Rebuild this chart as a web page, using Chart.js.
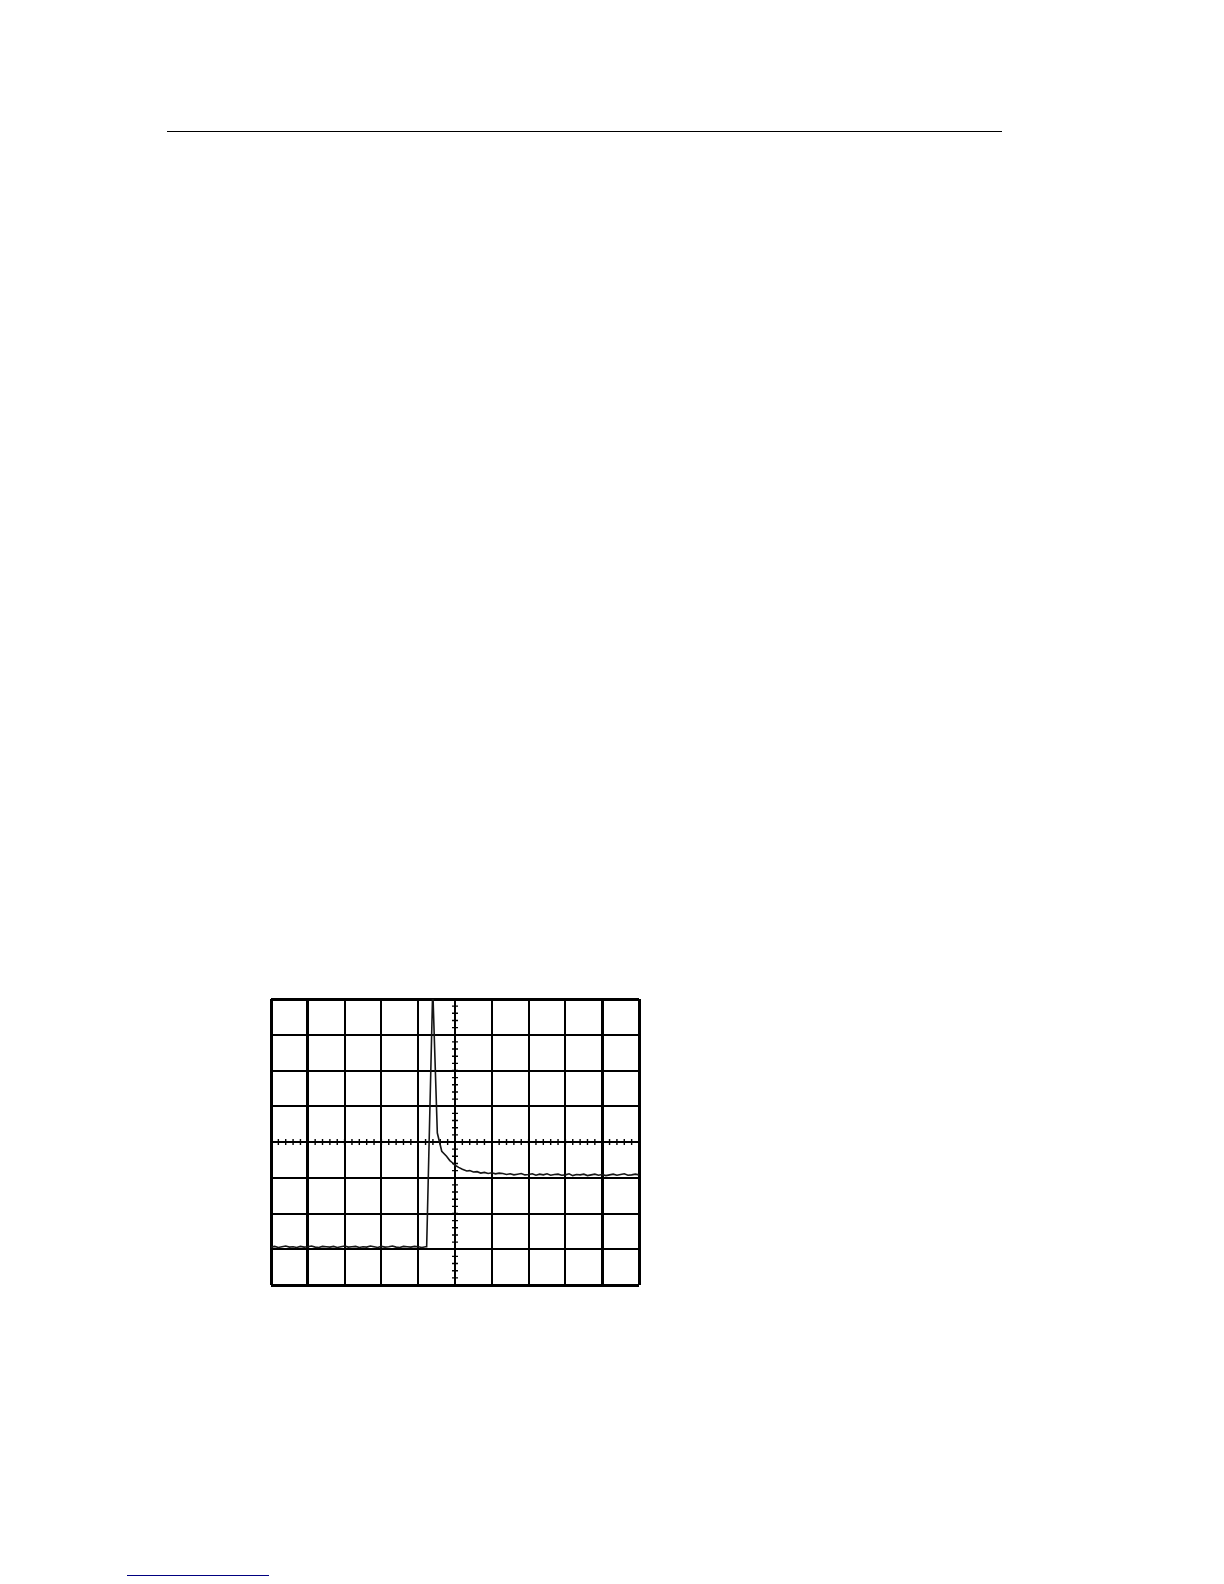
<!DOCTYPE html>
<html>
<head>
<meta charset="utf-8">
<title>Scope trace</title>
<script src="https://cdn.jsdelivr.net/npm/chart.js@4/dist/chart.umd.min.js"></script>
<style>
  html, body { margin: 0; padding: 0; background: #fff; }
  body { width: 1224px; height: 1584px; position: relative; overflow: hidden; }
  .rule { position: absolute; background: #000; }
  #scope { position: absolute; left: 266px; top: 994px; }
</style>
</head>
<body>
<div class="rule" style="left:167px; top:130.5px; width:835px; height:1.6px;"></div>
<div class="rule" style="left:127px; top:1574.5px; width:142px; height:1.2px; background:#000080;"></div>
<canvas id="scope" width="378" height="296"></canvas>
<script>
// graticule: 10 x 8 divisions, units are divisions (0 = centre)
var xTicks = [-5, -4, -3, -2, -1, 0, 1, 2, 3, 4, 5];
var yTicks = [-4, -3, -2, -1, 0, 1, 2, 3, 4];

// minor marks on the centre cross, 5 per division
var xMinor = [-5,-4.8,-4.6,-4.4,-4.2,-4,-3.8,-3.6,-3.4,-3.2,-3,-2.8,-2.6,-2.4,-2.2,-2,-1.8,-1.6,-1.4,-1.2,-1,-0.8,-0.6,-0.4,-0.2,0,
              0.2,0.4,0.6,0.8,1,1.2,1.4,1.6,1.8,2,2.2,2.4,2.6,2.8,3,3.2,3.4,3.6,3.8,4,4.2,4.4,4.6,4.8,5];
var yMinor = [-4,-3.8,-3.6,-3.4,-3.2,-3,-2.8,-2.6,-2.4,-2.2,-2,-1.8,-1.6,-1.4,-1.2,-1,-0.8,-0.6,-0.4,-0.2,0,
              0.2,0.4,0.6,0.8,1,1.2,1.4,1.6,1.8,2,2.2,2.4,2.6,2.8,3,3.2,3.4,3.6,3.8,4];

// trace (divisions)
var baseTime = [-5.0,-4.9,-4.8,-4.7,-4.6,-4.5,-4.4,-4.3,-4.2,-4.1,
                -4.0,-3.9,-3.8,-3.7,-3.6,-3.5,-3.4,-3.3,-3.2,-3.1,
                -3.0,-2.9,-2.8,-2.7,-2.6,-2.5,-2.4,-2.3,-2.2,-2.1,
                -2.0,-1.9,-1.8,-1.7,-1.6,-1.5,-1.4,-1.3,-1.2,-1.1,
                -1.0,-0.9,-0.8];
var baseLevel = [-2.94,-2.92,-2.95,-2.93,-2.91,-2.94,-2.93,-2.95,-2.92,-2.94,
                 -2.93,-2.91,-2.94,-2.95,-2.92,-2.93,-2.94,-2.92,-2.95,-2.93,
                 -2.91,-2.94,-2.93,-2.92,-2.95,-2.93,-2.94,-2.91,-2.93,-2.95,
                 -2.92,-2.94,-2.93,-2.91,-2.94,-2.95,-2.92,-2.93,-2.94,-2.92,
                 -2.93,-2.95,-2.93];
var pulseTime = [-0.77, -0.605, -0.48, -0.36, -0.23, -0.14, -0.07, 0.0, 0.1, 0.2, 0.32, 0.4, 0.5, 0.6, 0.7, 0.8, 0.9, 1.0, 1.1, 1.2];
var pulseLevel = [-2.93, 4.3, 0.25, -0.26, -0.40, -0.52, -0.58, -0.65, -0.71, -0.76, -0.81, -0.80, -0.84, -0.83, -0.87, -0.85, -0.88, -0.86, -0.89, -0.87];
var tailTime = [1.3,1.4,1.5,1.6,1.7,1.8,1.9,2.0,2.1,2.2,
                2.3,2.4,2.5,2.6,2.7,2.8,2.9,3.0,3.1,3.2,
                3.3,3.4,3.5,3.6,3.7,3.8,3.9,4.0,4.1,4.2,
                4.3,4.4,4.5,4.6,4.7,4.8,4.9,5.0];
var tailLevel = [-0.88,-0.91,-0.89,-0.92,-0.90,-0.88,-0.92,-0.91,-0.89,-0.93,
                 -0.90,-0.92,-0.89,-0.93,-0.91,-0.90,-0.93,-0.92,-0.89,-0.94,
                 -0.91,-0.92,-0.90,-0.94,-0.92,-0.90,-0.93,-0.91,-0.94,-0.92,
                 -0.90,-0.93,-0.91,-0.89,-0.93,-0.92,-0.90,-0.92];

function toPoints(xs, ys) {
  var pts = [];
  for (var i = 0; i < xs.length; i++) pts.push({ x: xs[i], y: ys[i] });
  return pts;
}
var trace = toPoints(baseTime, baseLevel)
  .concat(toPoints(pulseTime, pulseLevel))
  .concat(toPoints(tailTime, tailLevel));

// small tick marks along the centre cross
var centreTicks = {
  id: 'centreTicks',
  beforeDatasetsDraw: function(chart) {
    var ctx = chart.ctx, xs = chart.scales.x, ys = chart.scales.y;
    var cx = xs.getPixelForValue(0), cy = ys.getPixelForValue(0);
    ctx.save();
    ctx.strokeStyle = '#000';
    ctx.lineWidth = 1.4;
    ctx.beginPath();
    xMinor.forEach(function(v) {
      var px = xs.getPixelForValue(v);
      ctx.moveTo(px, cy - 3);
      ctx.lineTo(px, cy + 3);
    });
    yMinor.forEach(function(v) {
      var py = ys.getPixelForValue(v);
      ctx.moveTo(cx - 3, py);
      ctx.lineTo(cx + 3, py);
    });
    ctx.stroke();
    ctx.restore();
  }
};

function gridWidth(c) {
  var v = c.tick ? c.tick.value : 0;
  return (v === xTicks[0] || v === xTicks[xTicks.length - 1] ||
          v === yTicks[0] || v === yTicks[yTicks.length - 1]) ? 3 : 2;
}

new Chart(document.getElementById('scope').getContext('2d'), {
  type: 'line',
  data: {
    datasets: [{
      data: trace,
      borderColor: '#151515',
      borderWidth: 1.6,
      pointRadius: 0,
      tension: 0,
      fill: false
    }]
  },
  options: {
    responsive: false,
    animation: false,
    devicePixelRatio: 1,
    layout: { padding: 5 },
    plugins: { legend: { display: false }, tooltip: { enabled: false } },
    scales: {
      x: {
        type: 'linear',
        min: xTicks[0],
        max: xTicks[xTicks.length - 1],
        afterBuildTicks: function(s) { s.ticks = xTicks.map(function(v) { return { value: v }; }); },
        ticks: { display: false },
        grid: { color: '#000', lineWidth: gridWidth, drawTicks: false },
        border: { display: false }
      },
      y: {
        type: 'linear',
        min: yTicks[0],
        max: yTicks[yTicks.length - 1],
        afterBuildTicks: function(s) { s.ticks = yTicks.map(function(v) { return { value: v }; }); },
        ticks: { display: false },
        grid: { color: '#000', lineWidth: gridWidth, drawTicks: false },
        border: { display: false }
      }
    }
  },
  plugins: [centreTicks]
});
</script>
</body>
</html>
